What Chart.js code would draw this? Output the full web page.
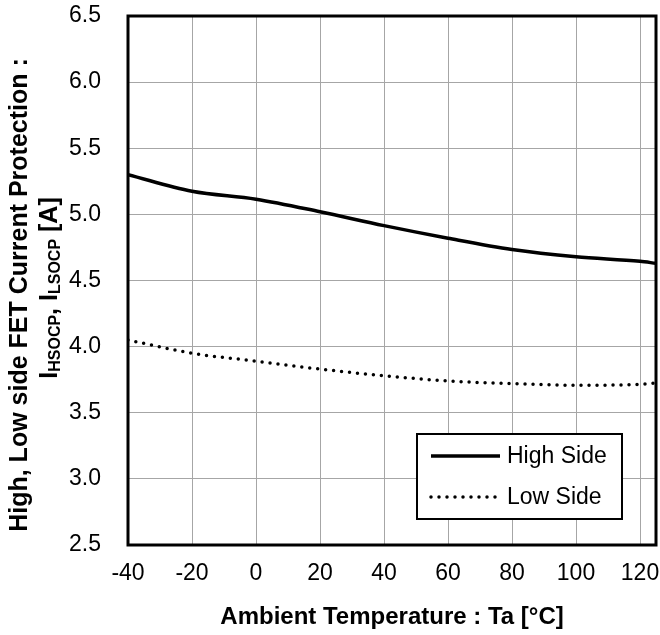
<!DOCTYPE html>
<html>
<head>
<meta charset="utf-8">
<script src="https://cdn.jsdelivr.net/npm/chart.js@4/dist/chart.umd.min.js"></script>
<style>
  body { margin: 0; background: #fff; }
  canvas { display: block; }
</style>
</head>
<body>
<canvas id="ocpChart" width="660" height="635"></canvas>
<script>
// temperature points (°C)
var temps = [-40, -20, 0, 20, 40, 60, 80, 100, 120, 125];
// current protection values (A)
var highSide = [5.30, 5.175, 5.115, 5.02, 4.915, 4.82, 4.735, 4.68, 4.645, 4.63];
var lowSide = [4.05, 3.95, 3.89, 3.83, 3.78, 3.74, 3.72, 3.708, 3.715, 3.725];
var seriesNames = ["High Side", "Low Side"];
var xTicks = [-40, -20, 0, 20, 40, 60, 80, 100, 120];
var yTicks = [2.5, 3.0, 3.5, 4.0, 4.5, 5.0, 5.5, 6.0, 6.5];

var FONT = '"Liberation Sans", Arial, sans-serif';

function toPoints(vals){
    return temps.map(function(t, i){ return {x: t, y: vals[i]}; });
}

// titles, frame and legend drawn by hand (subscripts + boxed legend)
var extras = {
    id: 'extras',
    afterDraw: function(chart){
        var ctx = chart.ctx;
        var a = chart.chartArea;
        ctx.save();

        // frame
        ctx.strokeStyle = '#000';
        ctx.lineWidth = 3;
        ctx.strokeRect(a.left, a.top, a.right - a.left, a.bottom - a.top);

        // x title
        ctx.fillStyle = '#000';
        ctx.font = 'bold 24px ' + FONT;
        ctx.textAlign = 'center';
        ctx.textBaseline = 'alphabetic';
        ctx.fillText('Ambient Temperature : Ta [°C]', (a.left + a.right) / 2, 624);

        // y title line 1
        ctx.save();
        ctx.translate(27, 295);
        ctx.rotate(-Math.PI / 2);
        ctx.font = 'bold 25px ' + FONT;
        ctx.fillText('High, Low side FET Current Protection :', 0, 0);
        ctx.restore();

        // y title line 2 with subscripts
        var parts = [
            ['I', false], ['HSOCP', true], [', I', false], ['LSOCP', true], [' [A]', false]
        ];
        var mainFont = 'bold 25px ' + FONT, subFont = 'bold 16px ' + FONT;
        var total = 0;
        parts.forEach(function(p){
            ctx.font = p[1] ? subFont : mainFont;
            total += ctx.measureText(p[0]).width;
        });
        ctx.save();
        ctx.translate(57, 288);
        ctx.rotate(-Math.PI / 2);
        ctx.textAlign = 'left';
        var u = -total / 2;
        parts.forEach(function(p){
            ctx.font = p[1] ? subFont : mainFont;
            ctx.fillText(p[0], u, p[1] ? 3 : 0);
            u += ctx.measureText(p[0]).width;
        });
        ctx.restore();

        // legend
        var bx = a.right - 239, by = a.bottom - 111, bw = 205, bh = 85;
        ctx.fillStyle = '#fff';
        ctx.fillRect(bx, by, bw, bh);
        ctx.strokeStyle = '#000';
        ctx.lineWidth = 2;
        ctx.strokeRect(bx, by, bw, bh);
        var ds = chart.data.datasets;
        var rows = [by + 22, by + 63];
        ds.forEach(function(d, i){
            ctx.beginPath();
            ctx.strokeStyle = d.borderColor;
            ctx.lineWidth = d.borderWidth;
            ctx.lineCap = d.borderCapStyle || 'butt';
            ctx.setLineDash(d.borderDash || []);
            ctx.moveTo(bx + 14, rows[i]);
            ctx.lineTo(bx + 83, rows[i]);
            ctx.stroke();
            ctx.setLineDash([]);
            ctx.fillStyle = '#000';
            ctx.font = '23px ' + FONT;
            ctx.textAlign = 'left';
            ctx.textBaseline = 'middle';
            ctx.fillText(d.label, bx + 90, rows[i] + 1);
        });
        ctx.restore();
    }
};

new Chart("ocpChart", {
    type: "line",
    data: {
        datasets: [{
            label: seriesNames[0],
            data: toPoints(highSide),
            borderColor: "#000",
            borderWidth: 3.5,
            pointRadius: 0,
            cubicInterpolationMode: 'monotone'
        }, {
            label: seriesNames[1],
            data: toPoints(lowSide),
            borderColor: "#000",
            borderWidth: 3.5,
            borderDash: [0, 8],
            borderCapStyle: 'round',
            pointRadius: 0,
            cubicInterpolationMode: 'monotone'
        }]
    },
    options: {
        responsive: false,
        animation: false,
        layout: { padding: { top: 16, right: 4, left: 0, bottom: 0 } },
        plugins: {
            legend: { display: false },
            tooltip: { enabled: false }
        },
        scales: {
            x: {
                type: 'linear',
                min: -40,
                max: 125,
                afterFit: function(s){
                    s.height = 90;
                    s.paddingLeft = 0; s.paddingRight = 0;
                },
                afterBuildTicks: function(s){ s.ticks = xTicks.map(function(v){ return {value: v}; }); },
                grid: { color: '#a6a6a6', lineWidth: 1, drawTicks: false },
                border: { display: false },
                ticks: {
                    color: '#000',
                    padding: 15,
                    maxRotation: 0,
                    font: { family: FONT, size: 23 },
                    callback: function(v){ return v; }
                }
            },
            y: {
                min: 2.5,
                max: 6.5,
                afterFit: function(s){
                    s.width = 128;
                    s.paddingTop = 0; s.paddingBottom = 0;
                },
                afterBuildTicks: function(s){ s.ticks = yTicks.map(function(v){ return {value: v}; }); },
                grid: { color: '#a6a6a6', lineWidth: 1, drawTicks: false },
                border: { display: false },
                ticks: {
                    color: '#000',
                    padding: 27,
                    font: { family: FONT, size: 23 },
                    callback: function(v){ return v.toFixed(1); }
                }
            }
        }
    },
    plugins: [extras]
});
</script>
</body>
</html>
